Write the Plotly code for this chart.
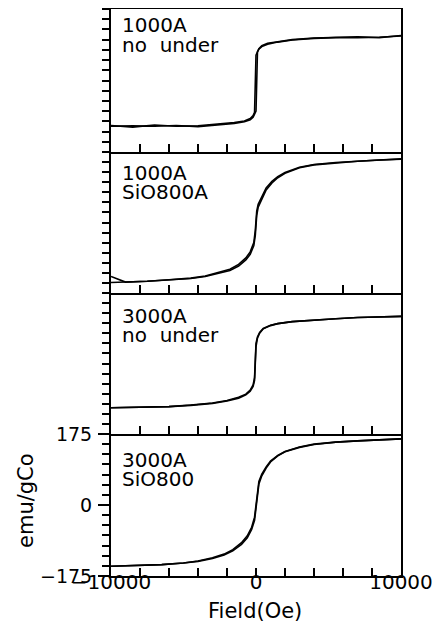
import plotly.graph_objects as go
from plotly.subplots import make_subplots

# ---------------- data ----------------
panel_labels = [("1000A", "no\u00a0\u00a0under"),
                ("1000A", "SiO800A"),
                ("3000A", "no\u00a0\u00a0under"),
                ("3000A", "SiO800")]

# Panel 1: 1000A, no underlayer
H1 = [-10000, -8500, -7000, -5500, -4000, -2500, -1500, -800, -400, -200, -100, 0,
      100, 200, 400, 800, 1500, 2500, 4000, 5500, 7000, 8500, 10000]
M1_desc = [-110, -114, -109, -112, -111, -107, -103, -99, -93, -86, -78, 62,
           72, 78, 85, 91, 95, 100, 104, 106, 107, 105, 110]
M1_asc = [-112, -111, -112, -110, -113, -109, -105, -101, -96, -90, -84, -75,
          70, 77, 83, 89, 94, 99, 103, 105, 105, 106, 109]

# Panel 2: 1000A, SiO 800A
H2 = [-10000, -9000, -7500, -6000, -4500, -3500, -2500, -1800, -1200, -700, -400, -150, -50,
      50, 150, 350, 700, 1100, 1500, 2000, 2500, 3000, 4000, 5500, 7000, 8500, 10000]
M2_desc = [-149, -148, -146, -142, -138, -133, -124, -116, -104, -88, -73, -50, -20,
           28, 45, 60, 86, 102, 114, 124, 131, 137, 144, 149, 152, 155, 158]
M2_asc = [-134, -148, -146, -143, -139, -134, -126, -119, -108, -93, -79, -57, -32,
          18, 38, 53, 81, 98, 111, 122, 130, 136, 143, 148, 152, 155, 157]

# Panel 3: 3000A, no underlayer
H3 = [-10000, -8000, -6000, -4500, -3000, -2000, -1200, -700, -400, -200, -100, 0,
      100, 250, 500, 1000, 1500, 2500, 4000, 5500, 7000, 8500, 10000]
M3_desc = [-110, -109, -107, -103, -98, -92, -84, -76, -66, -53, -35, 50,
           66, 77, 87, 95, 99, 104, 108, 111, 114, 116, 117]
M3_asc = [-110, -109, -107, -104, -99, -93, -86, -78, -69, -57, -42, 42,
          63, 75, 86, 94, 99, 104, 108, 111, 114, 116, 117]

# Panel 4: 3000A, SiO 800
H4 = [-10000, -8000, -6500, -5000, -4000, -3000, -2200, -1600, -1000, -600, -300, -100, 0,
      100, 200, 400, 700, 1000, 1500, 2000, 3000, 4000, 5500, 7000, 8500, 10000]
M4_desc = [-151, -149, -147, -143, -138, -130, -121, -110, -93, -76, -55, -30, 5,
           40, 58, 76, 94, 108, 122, 132, 143, 150, 155, 158, 161, 163]
M4_asc = [-151, -149, -147, -143, -139, -132, -123, -113, -97, -81, -60, -38, -10,
          28, 52, 72, 91, 106, 121, 131, 142, 149, 155, 158, 161, 163]

panels = [(H1, M1_desc, M1_asc), (H2, M2_desc, M2_asc),
          (H3, M3_desc, M3_asc), (H4, M4_desc, M4_asc)]

x_ticks = [-10000, 0, 10000]
x_ticktext = ["\u221210000", "0", "10000"]
y_ticks = [-175, 0, 175]
y_ticktext = ["\u2212175", "0", "175"]
x_title = "Field(Oe)"
y_title = "emu/gCo"

# ---------------- figure ----------------
# the page places the figure 8 px from the top-left corner (body margin)
OFF = 8
W, H = 433, 619
ML, MR, MT, MB = 103, 40, 1, 51
PW, PH = W - ML - MR, H - MT - MB

fig = make_subplots(rows=4, cols=1, shared_xaxes=False, vertical_spacing=0)

for i, (h, md, ma) in enumerate(panels):
    row = i + 1
    fig.add_trace(go.Scatter(x=h, y=md, mode="lines",
                             line=dict(color="black", width=1.6), showlegend=False),
                  row=row, col=1)
    fig.add_trace(go.Scatter(x=h, y=ma, mode="lines",
                             line=dict(color="black", width=1.6), showlegend=False),
                  row=row, col=1)

# panel boundaries in figure pixels (top, bottom)
bounds = [(1, 144), (144, 285), (285, 426), (426, 568)]

def py(ypix):
    return (MT + PH - ypix) / PH

def px(xpix):
    return (xpix - ML) / PW

font = "DejaVu Sans"
for i, (t, b) in enumerate(bounds):
    row = i + 1
    last = row == 4
    fig.update_yaxes(row=row, col=1, domain=[py(b), py(t)], range=[-175, 175],
                     showline=True, linecolor="black", linewidth=2, mirror=True,
                     ticks="outside", ticklen=11 if last else 7, tickwidth=2,
                     tickcolor="black",
                     tickmode="array", tickvals=y_ticks, ticktext=y_ticktext,
                     showticklabels=last, showgrid=False, zeroline=False,
                     automargin=False, ticklabelstandoff=2,
                     tickfont=dict(family=font, size=19, color="black"),
                     minor=dict(dtick=25, tick0=0, ticks="outside", ticklen=7,
                                tickwidth=1.5, tickcolor="black", showgrid=False))
    fig.update_xaxes(row=row, col=1, range=[-10000, 10000],
                     showline=True, linecolor="black", linewidth=2,
                     mirror=(row == 1),
                     ticks="inside", ticklen=8, tickwidth=2, tickcolor="black",
                     tickmode="array", tickvals=x_ticks, ticktext=x_ticktext,
                     showticklabels=last, showgrid=False, zeroline=False,
                     automargin=False, ticklabelstandoff=-13,
                     tickfont=dict(family=font, size=20, color="black"),
                     minor=dict(dtick=2000, tick0=0, ticks="inside", ticklen=8,
                                tickwidth=2, tickcolor="black", showgrid=False))

annotations = []
# centres of first text line, screenshot pixels
line1_centers = [25.5, 172.5, 315.5, 459.5]
for (l1, l2), yc in zip(panel_labels, line1_centers):
    annotations.append(dict(text=l1, xref="paper", yref="paper",
                            x=px(120 - OFF), y=py(yc - OFF),
                            xanchor="left", yanchor="middle", showarrow=False,
                            font=dict(family=font, size=20, color="black")))
    annotations.append(dict(text=l2, xref="paper", yref="paper",
                            x=px(120 - OFF), y=py(yc + 19.5 - OFF),
                            xanchor="left", yanchor="middle", showarrow=False,
                            font=dict(family=font, size=20, color="black")))

annotations.append(dict(text=x_title, xref="paper", yref="paper",
                        x=px(255 - OFF), y=py(611 - OFF),
                        xanchor="center", yanchor="middle", showarrow=False,
                        font=dict(family=font, size=21, color="black")))
annotations.append(dict(text=y_title, xref="paper", yref="paper",
                        x=px(26 - OFF), y=py(501 - OFF),
                        xanchor="center", yanchor="middle", textangle=-90,
                        showarrow=False,
                        font=dict(family=font, size=21, color="black")))

fig.update_layout(width=W, height=H, template="none",
                  margin=dict(l=ML, r=MR, t=MT, b=MB),
                  paper_bgcolor="white", plot_bgcolor="white",
                  showlegend=False, annotations=annotations,
                  font=dict(family=font, color="black"))

fig.write_html("out.html")
